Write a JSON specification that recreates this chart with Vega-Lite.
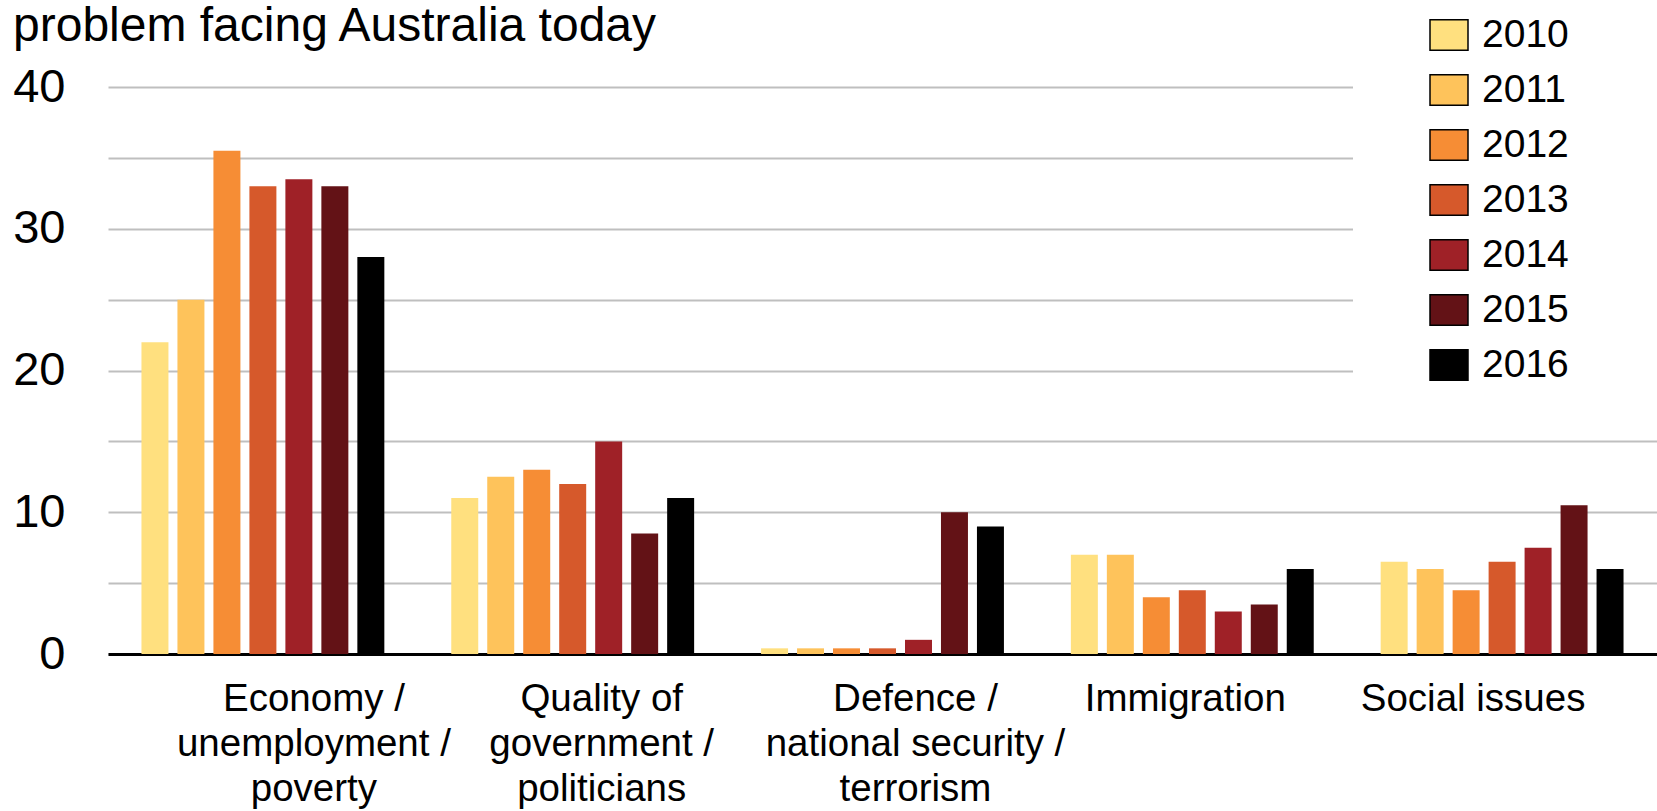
{
  "$schema": "https://vega.github.io/schema/vega-lite/v6.json",
  "autosize": "none",
  "width": 1549,
  "height": 567,
  "padding": {"left": 108, "top": 87, "right": 0, "bottom": 157},
  "background": "white",
  "config": {
    "view": {"stroke": null},
    "font": "Liberation Sans"
  },
  "title": {
    "text": "problem facing Australia today",
    "anchor": "start",
    "frame": "group",
    "fontSize": 48,
    "fontWeight": "normal",
    "font": "Liberation Sans",
    "color": "black",
    "dx": -95,
    "dy": 94,
    "baseline": "alphabetic",
    "offset": 0
  },
  "data": {
    "values": [
      {"category": "Economy / unemployment / poverty", "year": "2010", "value": 22},
      {"category": "Economy / unemployment / poverty", "year": "2011", "value": 25},
      {"category": "Economy / unemployment / poverty", "year": "2012", "value": 35.5},
      {"category": "Economy / unemployment / poverty", "year": "2013", "value": 33},
      {"category": "Economy / unemployment / poverty", "year": "2014", "value": 33.5},
      {"category": "Economy / unemployment / poverty", "year": "2015", "value": 33},
      {"category": "Economy / unemployment / poverty", "year": "2016", "value": 28},
      {"category": "Quality of government / politicians", "year": "2010", "value": 11},
      {"category": "Quality of government / politicians", "year": "2011", "value": 12.5},
      {"category": "Quality of government / politicians", "year": "2012", "value": 13},
      {"category": "Quality of government / politicians", "year": "2013", "value": 12},
      {"category": "Quality of government / politicians", "year": "2014", "value": 15},
      {"category": "Quality of government / politicians", "year": "2015", "value": 8.5},
      {"category": "Quality of government / politicians", "year": "2016", "value": 11},
      {"category": "Defence / national security / terrorism", "year": "2010", "value": 0.4},
      {"category": "Defence / national security / terrorism", "year": "2011", "value": 0.4},
      {"category": "Defence / national security / terrorism", "year": "2012", "value": 0.4},
      {"category": "Defence / national security / terrorism", "year": "2013", "value": 0.4},
      {"category": "Defence / national security / terrorism", "year": "2014", "value": 1},
      {"category": "Defence / national security / terrorism", "year": "2015", "value": 10},
      {"category": "Defence / national security / terrorism", "year": "2016", "value": 9},
      {"category": "Immigration", "year": "2010", "value": 7},
      {"category": "Immigration", "year": "2011", "value": 7},
      {"category": "Immigration", "year": "2012", "value": 4},
      {"category": "Immigration", "year": "2013", "value": 4.5},
      {"category": "Immigration", "year": "2014", "value": 3},
      {"category": "Immigration", "year": "2015", "value": 3.5},
      {"category": "Immigration", "year": "2016", "value": 6},
      {"category": "Social issues", "year": "2010", "value": 6.5},
      {"category": "Social issues", "year": "2011", "value": 6},
      {"category": "Social issues", "year": "2012", "value": 4.5},
      {"category": "Social issues", "year": "2013", "value": 6.5},
      {"category": "Social issues", "year": "2014", "value": 7.5},
      {"category": "Social issues", "year": "2015", "value": 10.5},
      {"category": "Social issues", "year": "2016", "value": 6}
    ]
  },
  "mark": {"type": "bar"},
  "encoding": {
    "x": {
      "field": "category",
      "type": "nominal",
      "sort": null,
      "scale": {"paddingInner": 0, "paddingOuter": 0},
      "axis": {
        "title": null,
        "labelAngle": 0,
        "labelFontSize": 38.5,
        "labelLineHeight": 45,
        "labelColor": "black",
        "labelPadding": 26,
        "labelLimit": 0,
        "ticks": false,
        "domain": true,
        "domainColor": "black",
        "domainWidth": 3,
        "grid": false,
        "labelExpr": "datum.value === 'Economy / unemployment / poverty' ? ['Economy /', 'unemployment /', 'poverty'] : datum.value === 'Quality of government / politicians' ? ['Quality of', 'government /', 'politicians'] : datum.value === 'Defence / national security / terrorism' ? ['Defence /', 'national security /', 'terrorism'] : datum.value",
        "labelOffset": {
          "condition": [
            {"test": "datum.value === 'Economy / unemployment / poverty'", "value": 51},
            {"test": "datum.value === 'Quality of government / politicians'", "value": 29},
            {"test": "datum.value === 'Defence / national security / terrorism'", "value": 33},
            {"test": "datum.value === 'Immigration'", "value": -7}
          ],
          "value": -29
        }
      }
    },
    "xOffset": {
      "field": "year",
      "type": "nominal",
      "scale": {"paddingInner": 0.25, "paddingOuter": 0.93}
    },
    "y": {
      "field": "value",
      "type": "quantitative",
      "scale": {"domain": [0, 40], "nice": false},
      "axis": {
        "title": null,
        "values": [0, 5, 10, 15, 20, 25, 30, 35, 40],
        "labelExpr": "datum.value % 10 === 0 ? datum.label : ''",
        "labelFontSize": 47,
        "labelColor": "black",
        "labelPadding": 43,
        "ticks": false,
        "domain": false,
        "grid": true,
        "gridColor": "#bfbfbf",
        "gridWidth": 2
      }
    },
    "color": {
      "field": "year",
      "type": "nominal",
      "scale": {
        "domain": ["2010", "2011", "2012", "2013", "2014", "2015", "2016"],
        "range": ["#ffe07f", "#fec35b", "#f68d35", "#d6592b", "#9f2127", "#631216", "#000000"]
      },
      "legend": {
        "title": "\u00a0",
        "titleOrient": "right",
        "titlePadding": 80,
        "titleFontSize": 10,
        "orient": "none",
        "legendX": 1245,
        "legendY": -92,
        "padding": 20,
        "fillColor": "white",
        "strokeColor": null,
        "symbolType": "M-1,-0.8H1V0.8H-1Z",
        "symbolSize": 1444,
        "symbolStrokeColor": "black",
        "symbolStrokeWidth": 1.5,
        "symbolOpacity": 1,
        "symbolOffset": 56,
        "labelOffset": 13,
        "labelFontSize": 39,
        "labelColor": "black",
        "rowPadding": 15,
        "labelLimit": 0
      }
    }
  }
}
